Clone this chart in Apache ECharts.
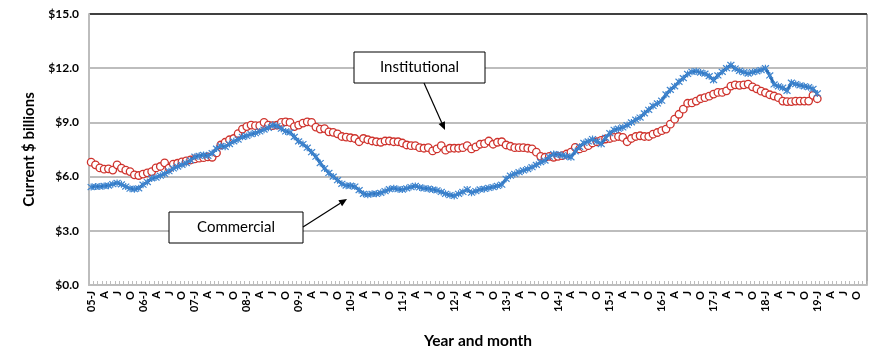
<!DOCTYPE html>
<html>
<head>
<meta charset="utf-8">
<script src="https://cdn.jsdelivr.net/npm/echarts@6/dist/echarts.min.js"></script>
<style>
  html, body { margin: 0; padding: 0; background: #fff; }
  #chart { width: 870px; height: 354px; }
</style>
</head>
<body>
<div id="chart"></div>
<script>
// months shown on the axis: Jan 2005 .. Dec 2019
const years = ['05','06','07','08','09','10','11','12','13','14','15','16','17','18','19'];
const monthLetters = ['J','F','M','A','M','J','J','A','S','O','N','D'];

// Current $ billions, Jan 2005 .. Jan 2019 (one row per year)
const commercial = [
  5.42, 5.45, 5.45, 5.48, 5.50, 5.58, 5.65, 5.57, 5.45, 5.33, 5.30, 5.35,
  5.55, 5.70, 5.90, 5.95, 6.05, 6.15, 6.30, 6.45, 6.55, 6.65, 6.75, 6.90,
  7.10, 7.15, 7.20, 7.15, 7.30, 7.55, 7.70, 7.65, 7.80, 7.95, 8.05, 8.20,
  8.25, 8.35, 8.40, 8.50, 8.60, 8.70, 8.85, 8.80, 8.65, 8.50, 8.45, 8.20,
  7.95, 7.80, 7.60, 7.35, 7.10, 6.75, 6.45, 6.20, 6.00, 5.80, 5.60, 5.50,
  5.50, 5.45, 5.25, 5.05, 5.00, 5.05, 5.05, 5.10, 5.20, 5.30, 5.35, 5.30,
  5.28, 5.35, 5.42, 5.48, 5.40, 5.35, 5.33, 5.28, 5.24, 5.15, 5.05, 4.98,
  4.93, 5.05, 5.15, 5.29, 5.11, 5.20, 5.29, 5.32, 5.37, 5.42, 5.48, 5.55,
  5.88, 6.05, 6.15, 6.25, 6.34, 6.42, 6.52, 6.65, 6.80, 6.89, 7.10, 7.25,
  7.22, 7.18, 7.12, 7.07, 7.40, 7.65, 7.86, 7.95, 8.08, 7.95, 7.80, 8.15,
  8.40, 8.59, 8.65, 8.72, 8.85, 9.00, 9.15, 9.27, 9.50, 9.70, 9.91, 10.05,
  10.20, 10.55, 10.80, 11.00, 11.25, 11.45, 11.68, 11.80, 11.83, 11.76, 11.70, 11.56,
  11.34, 11.60, 11.80, 12.00, 12.18, 11.98, 11.85, 11.78, 11.70, 11.78, 11.83, 11.90,
  12.00, 11.60, 11.10, 11.00, 10.92, 10.75, 11.20, 11.12, 11.05, 11.00, 10.95, 10.85,
  10.60
];

const institutional = [
  6.80, 6.65, 6.48, 6.41, 6.43, 6.36, 6.65, 6.47, 6.36, 6.28, 6.10, 6.06,
  6.14, 6.21, 6.28, 6.48, 6.56, 6.76, 6.47, 6.69, 6.74, 6.81, 6.87, 6.92,
  6.98, 7.02, 7.05, 7.09, 7.07, 7.31, 7.75, 7.90, 8.04, 8.11, 8.38, 8.63,
  8.77, 8.85, 8.82, 8.82, 9.00, 8.85, 8.82, 8.85, 9.00, 9.03, 9.00, 8.77,
  8.85, 8.96, 9.03, 9.00, 8.74, 8.63, 8.66, 8.48, 8.45, 8.37, 8.22, 8.19,
  8.15, 8.11, 7.93, 8.11, 8.04, 7.97, 7.93, 7.90, 7.97, 7.97, 7.93, 7.93,
  7.86, 7.75, 7.71, 7.71, 7.60, 7.57, 7.60, 7.42, 7.53, 7.71, 7.46, 7.57,
  7.57, 7.57, 7.60, 7.71, 7.53, 7.64, 7.79, 7.82, 7.97, 7.79, 7.90, 7.93,
  7.75, 7.68, 7.60, 7.60, 7.60, 7.57, 7.53, 7.35, 7.12, 7.07, 7.12, 7.07,
  7.12, 7.16, 7.25, 7.35, 7.62, 7.53, 7.60, 7.71, 7.86, 7.93, 8.01, 8.08,
  8.11, 8.17, 8.22, 8.17, 7.93, 8.11, 8.22, 8.26, 8.22, 8.22, 8.35, 8.44,
  8.54, 8.63, 8.90, 9.18, 9.45, 9.73, 10.06, 10.08, 10.18, 10.31, 10.37, 10.45,
  10.57, 10.66, 10.66, 10.75, 11.01, 11.08, 11.05, 11.08, 11.12, 10.97, 10.86, 10.73,
  10.64, 10.53, 10.46, 10.37, 10.18, 10.15, 10.15, 10.18, 10.18, 10.18, 10.18, 10.50,
  10.31
];

const yTicks = [0, 3, 6, 9, 12, 15];

const categories = [];
years.forEach(y => {
  monthLetters.forEach((m, i) => {
    categories.push(i === 0 ? y + '-J' : m);
  });
});

const FONT = 'Lato, "Open Sans", sans-serif';

// arrow = line + small filled head
function arrow(x1, y1, x2, y2) {
  const a = Math.atan2(y2 - y1, x2 - x1);
  const len = 8, half = 3.5;
  const bx = x2 - len * Math.cos(a), by = y2 - len * Math.sin(a);
  const px = -Math.sin(a) * half, py = Math.cos(a) * half;
  return [
    { type: 'line', z: 100, shape: { x1: x1, y1: y1, x2: bx, y2: by },
      style: { stroke: '#000', lineWidth: 1.2 } },
    { type: 'polygon', z: 100, shape: { points: [[x2, y2], [bx + px, by + py], [bx - px, by - py]] },
      style: { fill: '#000' } }
  ];
}

function labelBox(x, y, w, h, text) {
  return [
    { type: 'rect', z: 100, shape: { x: x, y: y, width: w, height: h },
      style: { fill: '#fff', stroke: '#000', lineWidth: 1 } },
    { type: 'text', z: 101, x: x + w / 2, y: y + h / 2,
      style: { text: text, font: '15px ' + FONT, fill: '#000',
        align: 'center', verticalAlign: 'middle',
        textAlign: 'center', textVerticalAlign: 'middle' } }
  ];
}

const myChart = echarts.init(document.getElementById('chart'));
const option = {
  animation: false,
  grid: {
    left: 89, right: 3, top: 14, bottom: 67,
    show: true, borderColor: '#595959', borderWidth: 1, backgroundColor: 'transparent'
  },
  xAxis: {
    type: 'category',
    data: categories,
    boundaryGap: true,
    name: 'Year and month',
    nameLocation: 'middle',
    nameGap: 48,
    nameTextStyle: { fontFamily: FONT, fontWeight: 'bold', fontSize: 15.5, color: '#000' },
    axisLine: { lineStyle: { color: '#bdbdbd', width: 2 } },
    axisTick: { show: true, inside: true, length: 4, interval: 0, lineStyle: { color: '#bdbdbd', width: 1 } },
    axisLabel: {
      interval: 2, rotate: 90, margin: 6,
      fontFamily: FONT, fontWeight: 'bold', fontSize: 11, color: '#000'
    },
    splitLine: { show: false }
  },
  yAxis: {
    type: 'value',
    min: yTicks[0], max: yTicks[yTicks.length - 1], interval: 3,
    name: 'Current $ billions',
    nameLocation: 'middle',
    nameGap: 52,
    nameTextStyle: { fontFamily: FONT, fontWeight: 'bold', fontSize: 15, color: '#000' },
    axisLine: { show: true, lineStyle: { color: '#bdbdbd', width: 2 } },
    axisTick: { show: false },
    axisLabel: {
      margin: 10, fontFamily: FONT, fontWeight: 'bold', fontSize: 12, color: '#000',
      formatter: v => '$' + v.toFixed(1)
    },
    splitLine: {
      lineStyle: { color: ['#bdbdbd', '#bdbdbd', '#bdbdbd', '#bdbdbd', '#bdbdbd', '#404040'], width: 2 }
    }
  },
  series: [
    {
      name: 'Institutional',
      type: 'line',
      data: institutional,
      symbol: 'circle',
      symbolSize: 7.5,
      showAllSymbol: true,
      lineStyle: { width: 0, opacity: 0 },
      itemStyle: { color: '#ffffff', borderColor: '#cf332d', borderWidth: 1.3 },
      z: 2
    },
    {
      name: 'Commercial',
      type: 'line',
      data: commercial,
      symbol: 'path://M0,0L10,10M10,0L0,10M5,-1L5,11',
      symbolSize: 7,
      showAllSymbol: true,
      lineStyle: { color: '#2a6db5', width: 3 },
      itemStyle: { color: '#3f85cf', borderColor: '#3f85cf', borderWidth: 1.2 },
      z: 3
    }
  ],
  graphic: [].concat(
    labelBox(354, 52, 131, 31, 'Institutional'),
    arrow(424, 83, 445, 130),
    labelBox(169, 212, 134, 31, 'Commercial'),
    arrow(303, 227, 347, 199)
  )
};
myChart.setOption(option);
window.addEventListener('resize', () => {
  myChart.resize();
});
</script>
</body>
</html>
